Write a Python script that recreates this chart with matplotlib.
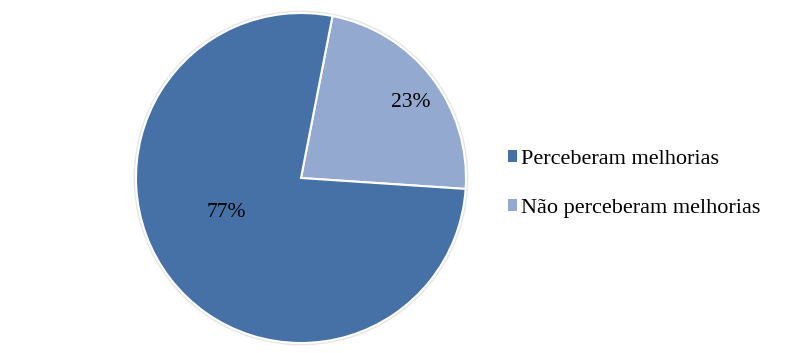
import matplotlib
matplotlib.use("Agg")
import matplotlib.pyplot as plt
from matplotlib.patches import Patch, Circle

labels = ["Perceberam melhorias", "Não perceberam melhorias"]
values = [77, 23]
colors = ["#4571A7", "#93A9CF"]

plt.rcParams['font.family'] = ['Liberation Serif', 'DejaVu Serif']

fig = plt.figure(figsize=(8.02, 3.53), dpi=100)
cx, cy, r = 301, 178, 165
W, H = 802, 353
ax = fig.add_axes([(cx - r) / W, (H - cy - r) / H, 2 * r / W, 2 * r / H])

# plot light-blue first so it starts near the top
order = [1, 0]
wedges, texts, autotexts = ax.pie(
    [values[i] for i in order],
    colors=[colors[i] for i in order],
    startangle=79, counterclock=False,
    autopct=lambda p: f"{p:.0f}%",
    pctdistance=0.8,
    wedgeprops=dict(edgecolor="white", linewidth=1.5),
    textprops=dict(fontsize=15.5, color="black"),
)
# label placement as in reference
autotexts[0].set_position((0.665, 0.46))
autotexts[1].set_position((-0.455, -0.21))

ax.add_patch(Circle((0, 0), 1.008, facecolor="none", edgecolor="#e6e6e6",
                    linewidth=1.5, zorder=0, clip_on=False))
ax.set_xlim(-1.0, 1.0)
ax.set_ylim(-1.0, 1.0)
ax.set_aspect("equal")
ax.axis("off")

handles = [Patch(facecolor=colors[i], edgecolor="none") for i in range(2)]
fig.legend(handles, labels, loc="center left", bbox_to_anchor=(497 / W, 1 - 184 / H),
           frameon=False, fontsize=16, handlelength=0.4, handleheight=0.4,
           handletextpad=0.2, labelspacing=1.35, borderpad=0)

fig.savefig("out.png", dpi=100)
